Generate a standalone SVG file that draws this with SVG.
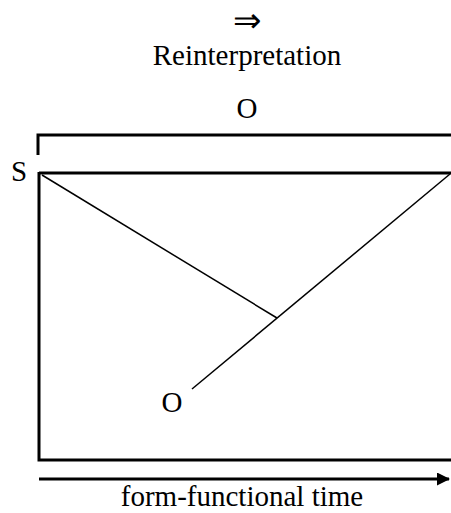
<svg xmlns="http://www.w3.org/2000/svg" width="451" height="513" viewBox="0 0 451 513">
<defs>
<style>
text{font-family:"Liberation Serif","Times New Roman",serif;font-size:29px;fill:#000;text-anchor:middle}
.thick{stroke:#000;stroke-width:3;fill:none}
.thin{stroke:#000;stroke-width:1.5;fill:none}
</style>
<marker id="ah" markerWidth="13" markerHeight="13" refX="12" refY="6.5" orient="auto" markerUnits="userSpaceOnUse" viewBox="0 0 13 13">
<path d="M0,0 L13,6.5 L0,13 z" fill="#000"/>
</marker>
</defs>
<rect width="451" height="513" fill="#fff"/>
<g id="labels">
<text x="247" y="32" style="font-size:34px">⇒</text>
<text x="247" y="65">Reinterpretation</text>
<text x="247" y="118">O</text>
<text x="19" y="181">S</text>
<text x="172" y="412">O</text>
<text x="242" y="506">form-functional time</text>
</g>
<g id="frame">
<path class="thick" d="M38,155 V135 H451"/>
<path class="thick" d="M39,173 H451 M39,172 V460 H451"/>
</g>
<g id="connectors">
<line class="thin" x1="42" y1="175" x2="277" y2="318"/>
<line class="thin" x1="450" y1="174" x2="192" y2="389"/>
<line class="thick" x1="39" y1="479" x2="449" y2="479" marker-end="url(#ah)"/>
</g>
</svg>
